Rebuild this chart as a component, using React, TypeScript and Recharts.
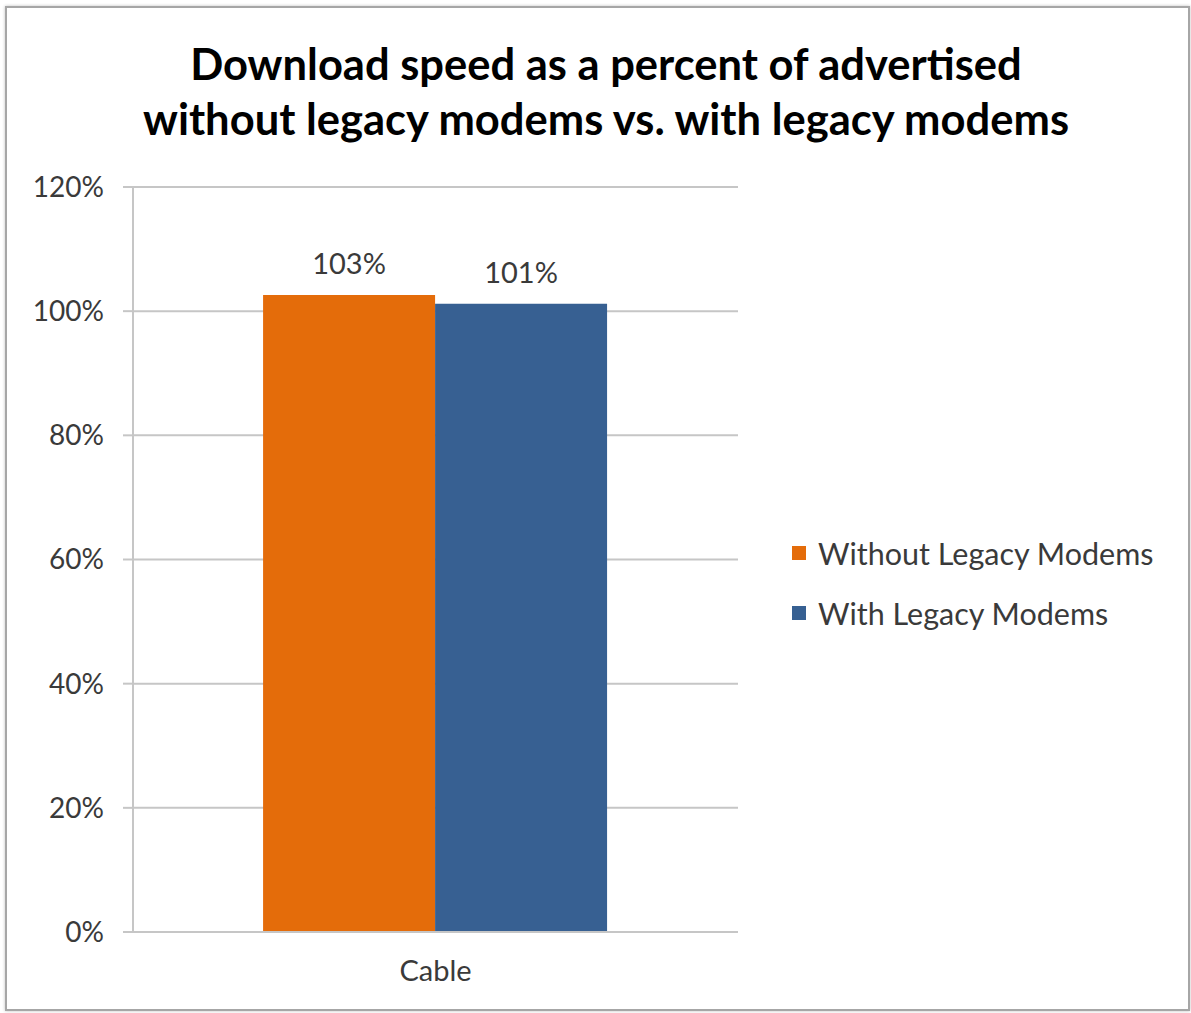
import React from 'react';
import { BarChart, Bar, XAxis, YAxis, CartesianGrid, LabelList, Legend } from 'recharts';

const categories = ['Cable'];
const withoutLegacy = [102.6];
const withLegacy = [101.2];
const yTicks = [0, 20, 40, 60, 80, 100, 120];

const seriesNames = ['Without Legacy Modems', 'With Legacy Modems'];
const seriesColors = ['#E46C0A', '#376092'];

const data = categories.map((name, i) => ({
  name,
  without: withoutLegacy[i],
  with: withLegacy[i],
}));

const FONT = 'Lato, "Open Sans", sans-serif';
const TEXT = '#3a3a3a';

const LegendBox = () => (
  <div style={{ fontFamily: FONT }}>
    {seriesNames.map((n, i) => (
      <div key={n} style={{ display: 'flex', alignItems: 'center', height: 60 }}>
        <span style={{ width: 14, height: 14, background: seriesColors[i], marginRight: 12, display: 'inline-block' }} />
        <span style={{ fontSize: 30.5, color: TEXT }}>{n}</span>
      </div>
    ))}
  </div>
);

export default function App() {
  return (
    <div style={{ position: 'absolute', left: 0, top: 0, width: 1191, height: 1013, background: '#fff', overflow: 'hidden' }}>
      <div
        style={{
          position: 'absolute',
          left: 5,
          top: 6,
          width: 1181,
          height: 1001,
          border: '2px solid #a6a6a6',
          boxShadow: '0 0 3px rgba(0,0,0,0.25)',
        }}
      />
      <div
        style={{
          position: 'absolute',
          left: 0,
          top: 36,
          width: 1212,
          textAlign: 'center',
          fontFamily: FONT,
          fontWeight: 700,
          fontSize: 43.5,
          lineHeight: '55px',
          color: '#000',
        }}
      >
        Download speed as a percent of advertised
        <br />
        without legacy modems vs. with legacy modems
      </div>
      <div style={{ position: 'absolute', left: 0, top: 0 }}>
        <BarChart
          width={1191}
          height={1013}
          data={data}
          margin={{ top: 187, right: 453, left: 73, bottom: 41 }}
          barCategoryGap="21.5%"
          barGap={0}
        >
          <CartesianGrid vertical={false} stroke="#c6c6c6" strokeWidth={2} />
          <XAxis
            dataKey="name"
            height={40}
            axisLine={{ stroke: '#c6c6c6', strokeWidth: 2 }}
            tickLine={false}
            tick={{ fill: TEXT, fontSize: 29, fontFamily: FONT }}
            dy={20}
          />
          <YAxis
            width={60}
            domain={[0, 120]}
            ticks={yTicks}
            interval={0}
            axisLine={{ stroke: '#c6c6c6', strokeWidth: 2 }}
            tickLine={{ stroke: '#c6c6c6', strokeWidth: 2 }}
            tickSize={10}
            tickMargin={19}
            tick={{ fill: TEXT, fontSize: 28, fontFamily: FONT }}
            tickFormatter={(v: number) => `${v}%`}
          />
          <Legend
            layout="horizontal"
            verticalAlign="middle"
            align="center"
            wrapperStyle={{ left: 792, top: 523, width: 400 }}
            content={() => <LegendBox />}
          />
          <Bar dataKey="without" name={seriesNames[0]} fill={seriesColors[0]} isAnimationActive={false}>
            <LabelList
              dataKey="without"
              position="top"
              offset={21}
              formatter={(v: any) => `${Math.round(Number(v))}%`}
              style={{ fill: TEXT, fontSize: 29, fontFamily: FONT }}
            />
          </Bar>
          <Bar dataKey="with" name={seriesNames[1]} fill={seriesColors[1]} isAnimationActive={false}>
            <LabelList
              dataKey="with"
              position="top"
              offset={21}
              formatter={(v: any) => `${Math.round(Number(v))}%`}
              style={{ fill: TEXT, fontSize: 29, fontFamily: FONT }}
            />
          </Bar>
        </BarChart>
      </div>
    </div>
  );
}
